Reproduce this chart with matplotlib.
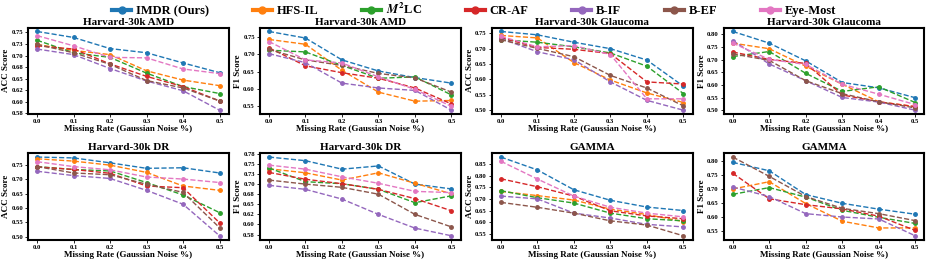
import numpy as np
import matplotlib
matplotlib.use('Agg')
import matplotlib.pyplot as plt

plt.rcParams['font.family'] = ['Liberation Serif', 'DejaVu Serif']
plt.rcParams['font.weight'] = 'bold'
plt.rcParams['mathtext.fontset'] = 'stix'

# Données
noise = [0.0, 0.1, 0.2, 0.3, 0.4, 0.5]
methods = ['IMDR (Ours)', 'HFS-IL', '$M^2$LC', 'CR-AF', 'B-IF', 'B-EF', 'Eye-Most']
colors = ['#1f77b4', '#ff7f0e', '#2ca02c', '#d62728', '#9467bd', '#8c564b', '#e377c2']

amd_acc = [
    [0.752, 0.739, 0.715, 0.706, 0.684, 0.663],
    [0.724, 0.711, 0.702, 0.667, 0.647, 0.635],
    [0.733, 0.706, 0.696, 0.662, 0.633, 0.618],
    [0.721, 0.714, 0.682, 0.655, 0.633, 0.602],
    [0.714, 0.702, 0.672, 0.645, 0.624, 0.582],
    [0.724, 0.706, 0.681, 0.646, 0.630, 0.602],
    [0.743, 0.721, 0.696, 0.695, 0.671, 0.661],
]
amd_f1 = [
    [0.766, 0.747, 0.684, 0.652, 0.633, 0.617],
    [0.743, 0.729, 0.654, 0.591, 0.565, 0.567],
    [0.712, 0.707, 0.668, 0.631, 0.635, 0.583],
    [0.719, 0.667, 0.647, 0.631, 0.603, 0.557],
    [0.702, 0.676, 0.617, 0.603, 0.596, 0.539],
    [0.714, 0.684, 0.668, 0.645, 0.632, 0.591],
    [0.737, 0.684, 0.675, 0.635, 0.599, 0.550],
]
glaucoma_acc = [
    [0.756, 0.745, 0.721, 0.700, 0.663, 0.578],
    [0.743, 0.735, 0.655, 0.598, 0.556, 0.525],
    [0.729, 0.721, 0.706, 0.686, 0.643, 0.554],
    [0.736, 0.704, 0.698, 0.684, 0.592, 0.585],
    [0.733, 0.690, 0.664, 0.592, 0.532, 0.500],
    [0.729, 0.701, 0.674, 0.613, 0.572, 0.514],
    [0.740, 0.706, 0.710, 0.681, 0.537, 0.537],
]
glaucoma_f1 = [
    [0.811, 0.765, 0.695, 0.610, 0.589, 0.550],
    [0.765, 0.743, 0.674, 0.603, 0.534, 0.515],
    [0.712, 0.732, 0.646, 0.575, 0.593, 0.531],
    [0.730, 0.701, 0.685, 0.561, 0.534, 0.515],
    [0.775, 0.683, 0.617, 0.551, 0.533, 0.501],
    [0.723, 0.697, 0.617, 0.566, 0.534, 0.510],
    [0.765, 0.701, 0.681, 0.603, 0.564, 0.523],
]
dr_acc = [
    [0.776, 0.773, 0.756, 0.737, 0.739, 0.721],
    [0.770, 0.762, 0.748, 0.723, 0.676, 0.661],
    [0.743, 0.733, 0.728, 0.688, 0.645, 0.584],
    [0.742, 0.733, 0.720, 0.676, 0.670, 0.549],
    [0.727, 0.712, 0.702, 0.661, 0.613, 0.504],
    [0.743, 0.721, 0.715, 0.682, 0.654, 0.532],
    [0.760, 0.743, 0.732, 0.707, 0.700, 0.688],
]
dr_f1 = [
    [0.767, 0.758, 0.737, 0.745, 0.700, 0.688],
    [0.738, 0.728, 0.710, 0.728, 0.702, 0.676],
    [0.740, 0.706, 0.701, 0.687, 0.654, 0.671],
    [0.729, 0.712, 0.701, 0.687, 0.664, 0.634],
    [0.697, 0.687, 0.663, 0.625, 0.591, 0.572],
    [0.710, 0.700, 0.692, 0.675, 0.625, 0.594],
    [0.747, 0.737, 0.718, 0.702, 0.682, 0.679],
]
gamma_acc = [
    [0.879, 0.824, 0.739, 0.694, 0.665, 0.650],
    [0.732, 0.714, 0.695, 0.656, 0.633, 0.603],
    [0.735, 0.705, 0.682, 0.639, 0.615, 0.606],
    [0.786, 0.752, 0.712, 0.649, 0.627, 0.615],
    [0.712, 0.700, 0.639, 0.618, 0.591, 0.580],
    [0.685, 0.664, 0.639, 0.606, 0.588, 0.542],
    [0.861, 0.785, 0.712, 0.664, 0.639, 0.623],
]
gamma_f1 = [
    [0.796, 0.766, 0.681, 0.650, 0.629, 0.611],
    [0.701, 0.727, 0.649, 0.586, 0.562, 0.562],
    [0.682, 0.706, 0.672, 0.625, 0.600, 0.578],
    [0.757, 0.666, 0.645, 0.630, 0.604, 0.553],
    [0.708, 0.674, 0.613, 0.601, 0.594, 0.534],
    [0.815, 0.746, 0.674, 0.632, 0.613, 0.588],
    None,
]

# Graduations de l'axe y
ticks_q = [0.575, 0.6, 0.625, 0.65, 0.675, 0.7, 0.725, 0.75, 0.775]
labels_q = ['0.58', '0.60', '0.62', '0.65', '0.68', '0.70', '0.73', '0.75', '0.78']
ticks_h = [0.5, 0.55, 0.6, 0.65, 0.7, 0.75, 0.8, 0.85]
labels_h = ['0.50', '0.55', '0.60', '0.65', '0.70', '0.75', '0.80', '0.85']

panels = [
    ('Harvard-30k AMD', 'ACC Score', amd_acc, ticks_q[:8], labels_q[:8]),
    ('Harvard-30k AMD', 'F1 Score', amd_f1, ticks_h[1:6], labels_h[1:6]),
    ('Harvard-30k Glaucoma', 'ACC Score', glaucoma_acc, ticks_h[:6], labels_h[:6]),
    ('Harvard-30k Glaucoma', 'F1 Score', glaucoma_f1, ticks_h[:7], labels_h[:7]),
    ('Harvard-30k DR', 'ACC Score', dr_acc, ticks_h[:6], labels_h[:6]),
    ('Harvard-30k DR', 'F1 Score', dr_f1, ticks_q, labels_q),
    ('GAMMA', 'ACC Score', gamma_acc, ticks_h[1:], labels_h[1:]),
    ('GAMMA', 'F1 Score', gamma_f1, ticks_h[1:7], labels_h[1:7]),
]

fig, axes = plt.subplots(2, 4, figsize=(9.3, 2.62), dpi=100)
fig.subplots_adjust(left=0.03, right=0.994, top=0.895, bottom=0.085,
                    wspace=0.155, hspace=0.45)

for ax, (title, ylabel, data, ticks, labels) in zip(axes.flat, panels):
    for name, color, y in zip(methods, colors, data):
        if y is None:
            continue
        ax.plot(noise, y, '--', marker='o', color=color, label=name,
                linewidth=1.0, markersize=2.5)
    ax.set_title(title, fontsize=8, fontweight='bold', pad=2)
    ax.set_ylabel(ylabel, fontsize=6.5, fontweight='bold', labelpad=1)
    ax.set_xlabel('Missing Rate (Gaussian Noise %)', fontsize=6.5,
                  fontweight='bold', labelpad=1)
    ax.set_xticks(noise)
    ax.set_yticks(ticks, labels)
    ax.tick_params(labelsize=4.8, length=2, width=0.6, pad=1.5)
    for s in ax.spines.values():
        s.set_linewidth(1.5)

# Légende commune
handles, names = axes[0, 0].get_legend_handles_labels()
leg = fig.legend(handles, names, loc='upper center', ncol=7,
                 bbox_to_anchor=(0.51, 1.01), borderaxespad=0.0,
                 frameon=False, prop={'size': 9, 'weight': 'bold'},
                 handlelength=1.5, columnspacing=3.5, handletextpad=0.4)
for line in leg.get_lines():
    line.set_linestyle('-')
    line.set_linewidth(3)
    line.set_markersize(5)

plt.savefig('out.png', dpi=100)
